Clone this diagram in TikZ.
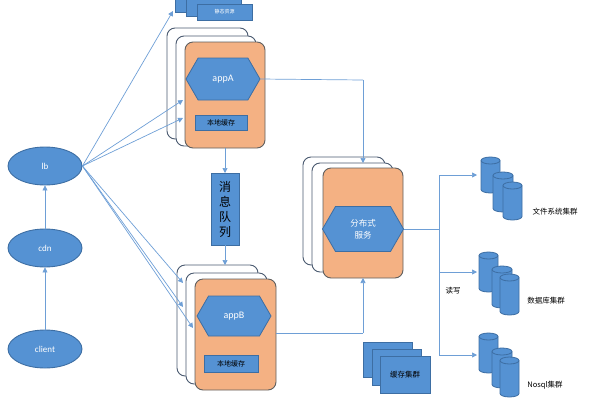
\documentclass[tikz,border=0pt]{standalone}
\usepackage{fontspec}
\setmainfont{Carlito}
\newfontfamily\cjk{Noto Sans CJK SC}
\usetikzlibrary{shapes.geometric,shapes.symbols,arrows.meta,calc}
\definecolor{bfill}{HTML}{5592D3}
\definecolor{bdraw}{HTML}{3D6EA3}
\definecolor{ofill}{HTML}{F4B183}
\definecolor{odraw}{HTML}{5F5F5F}
\definecolor{fdraw}{HTML}{4A5A70}
\definecolor{lclr}{HTML}{6E9FD6}
\tikzset{
  box/.style={rectangle,inner sep=0pt,outer sep=0pt},
  ell/.style={ellipse,draw=bdraw,fill=bfill,line width=0.9pt,minimum width=74pt,minimum height=38pt,text=white,font=\fontsize{9}{10}\selectfont},
  frm/.style={box,draw=fdraw,fill=white,rounded corners=8pt,line width=0.9pt},
  org/.style={box,draw=odraw,fill=ofill,rounded corners=8pt,line width=0.9pt},
  hexa/.style={signal,signal to=east and west,signal from=nowhere,signal pointer angle=120,draw=bdraw,fill=bfill,line width=0.8pt,inner sep=0pt,text=white},
  blu/.style={box,draw=bdraw,fill=bfill,line width=0.8pt},
  cylb/.style={draw=bdraw,fill=bfill,line width=0.8pt},
  arr/.style={draw=lclr,line width=0.7pt,-{Triangle[width=5pt,length=5pt]}},
  ln/.style={draw=lclr,line width=0.7pt},
  lbl/.style={font=\cjk\fontsize{7.5}{9}\selectfont,inner sep=0pt}
}
% name, cx, cy, w, h
\newcommand\mycyl[5]{%
  \node[box,minimum width=#4pt,minimum height=#5pt] (#1) at (#2,#3) {};
  \draw[cylb] ($(#1.north west)+(0,3.5)$) -- ($(#1.south west)+(0,-3.5)$)
    arc[start angle=180,end angle=360,x radius=#4pt/2,y radius=3.5pt]
    -- ($(#1.north east)+(0,3.5)$)
    arc[start angle=0,end angle=180,x radius=#4pt/2,y radius=3.5pt] -- cycle;
  \draw[cylb,fill=none] ($(#1.north west)+(0,3.5)$)
    arc[start angle=180,end angle=360,x radius=#4pt/2,y radius=3.5pt];
}
\begin{document}
\begin{tikzpicture}[x=1pt,y=-1pt]
\useasboundingbox (0,0) rectangle (600,400);
% left ellipses
\node[ell] (lb) at (45,166) {lb};
\node[ell] (cdn) at (45,248) {cdn};
\node[ell] (client) at (45,349) {client};
% static resources
\node[blu,minimum width=55pt,minimum height=24pt] (st1) at (202.5,0) {};
\node[blu,minimum width=55pt,minimum height=22pt] (st2) at (213.5,5) {};
\node[blu,minimum width=55pt,minimum height=16pt,text=white,font=\cjk\fontsize{5}{6}\selectfont] (st3) at (224.5,12) {静态资源};
% appA group
\node[frm,minimum width=81pt,minimum height=111pt] (fA1) at (207.5,83.5) {};
\node[frm,minimum width=80pt,minimum height=110pt] (fA2) at (216,91) {};
\node[org,minimum width=80pt,minimum height=106pt] (oA) at (225,95) {};
\node[hexa,minimum width=74pt,minimum height=42pt,font=\fontsize{10}{12}\selectfont] (hA) at (223,79) {appA};
\node[blu,minimum width=52pt,minimum height=15pt,font=\cjk\fontsize{7}{8}\selectfont] (cA) at (221,122.5) {本地缓存};
% queue
\node[blu,minimum width=28pt,minimum height=72pt,font=\cjk\fontsize{12}{15}\selectfont,align=center] (q) at (225,209) {消\\息\\队\\列};
% appB group
\node[frm,minimum width=81pt,minimum height=111pt] (fB1) at (217.5,320.5) {};
\node[frm,minimum width=81pt,minimum height=111pt] (fB2) at (226.5,328.5) {};
\node[org,minimum width=81pt,minimum height=111pt] (oB) at (235.5,334.5) {};
\node[hexa,minimum width=74pt,minimum height=40pt,font=\fontsize{10}{12}\selectfont] (hB) at (234,316) {appB};
\node[blu,minimum width=54pt,minimum height=17pt,font=\cjk\fontsize{7}{8}\selectfont] (cB) at (231,363.5) {本地缓存};
% service group
\node[frm,minimum width=82pt,minimum height=108pt] (fS1) at (344,211) {};
\node[frm,minimum width=81pt,minimum height=109pt] (fS2) at (352.5,217.5) {};
\node[org,minimum width=80pt,minimum height=110pt] (oS) at (363,223) {};
\node[hexa,minimum width=81pt,minimum height=45pt,align=center,font=\cjk\fontsize{8.5}{12}\selectfont] (hS) at (363,229) {分布式\\服务};
% cache cluster
\node[blu,minimum width=49pt,minimum height=35pt] (cc1) at (387.5,359.5) {};
\node[blu,minimum width=49pt,minimum height=36pt] (cc2) at (396.5,367) {};
\node[blu,minimum width=50pt,minimum height=37pt,font=\cjk\fontsize{7.5}{9}\selectfont] (cc3) at (405,374.5) {缓存集群};
% cylinders
\mycyl{F1}{490.5}{175}{19}{36}
\mycyl{F2}{503}{192}{20}{40}
\mycyl{F3}{512.5}{201}{19}{38}
\mycyl{D1}{488.5}{272}{19}{40}
\mycyl{D2}{502}{287}{20}{42}
\mycyl{D3}{509.5}{294.5}{19}{41}
\mycyl{N1}{488.5}{353}{19}{40}
\mycyl{N2}{502}{368}{20}{40}
\mycyl{N3}{509.5}{377}{19}{40}
% labels
\node[lbl] (lF) at (555,212) {文件系统集群};
\node[lbl] (lD) at (546,301) {数据库集群};
\node[lbl] (lN) at (545,385) {Nosql集群};
\node[lbl] (rw) at (453,291) {读写};
% connector ends
\coordinate (s1) at (173,11);
\coordinate (a1) at (183,100);
\coordinate (a2) at (183,118);
\coordinate (b1) at (183,283);
\coordinate (b2) at (183,307);
\coordinate (b3) at (193,328);
\coordinate (j) at (439,229);
\coordinate (tF) at (477,175);
\coordinate (tD) at (477,272);
\coordinate (tN) at (477,355);
\coordinate (kA) at (363,80);
\coordinate (kB) at (363,333);
% connectors
\draw[arr] (client) -- (cdn);
\draw[arr] (cdn) -- (lb);
\draw[arr] (lb.east) -- (s1);
\draw[arr] (lb.east) -- (a1);
\draw[arr] (lb.east) -- (a2);
\draw[arr] (lb.east) -- (b1);
\draw[arr] (lb.east) -- (b2);
\draw[arr] (lb.east) -- (b3);
\draw[arr] (q.north |- oA.south) -- (q.north);
\draw[arr] (q.south) -- (q.south |- fB1.north);
\draw[ln] (hA.east) -- (kA);
\draw[arr] (kA) -- (kA |- fS2.north);
\draw[ln] (oB.east |- kB) -- (kB);
\draw[arr] (kB) -- (kB |- oS.south);
\draw[ln] (hS.east) -- (j);
\draw[arr] (j) |- (tF);
\draw[arr] (j) |- (tD);
\draw[arr] (j) |- (tN);
\end{tikzpicture}
\end{document}
